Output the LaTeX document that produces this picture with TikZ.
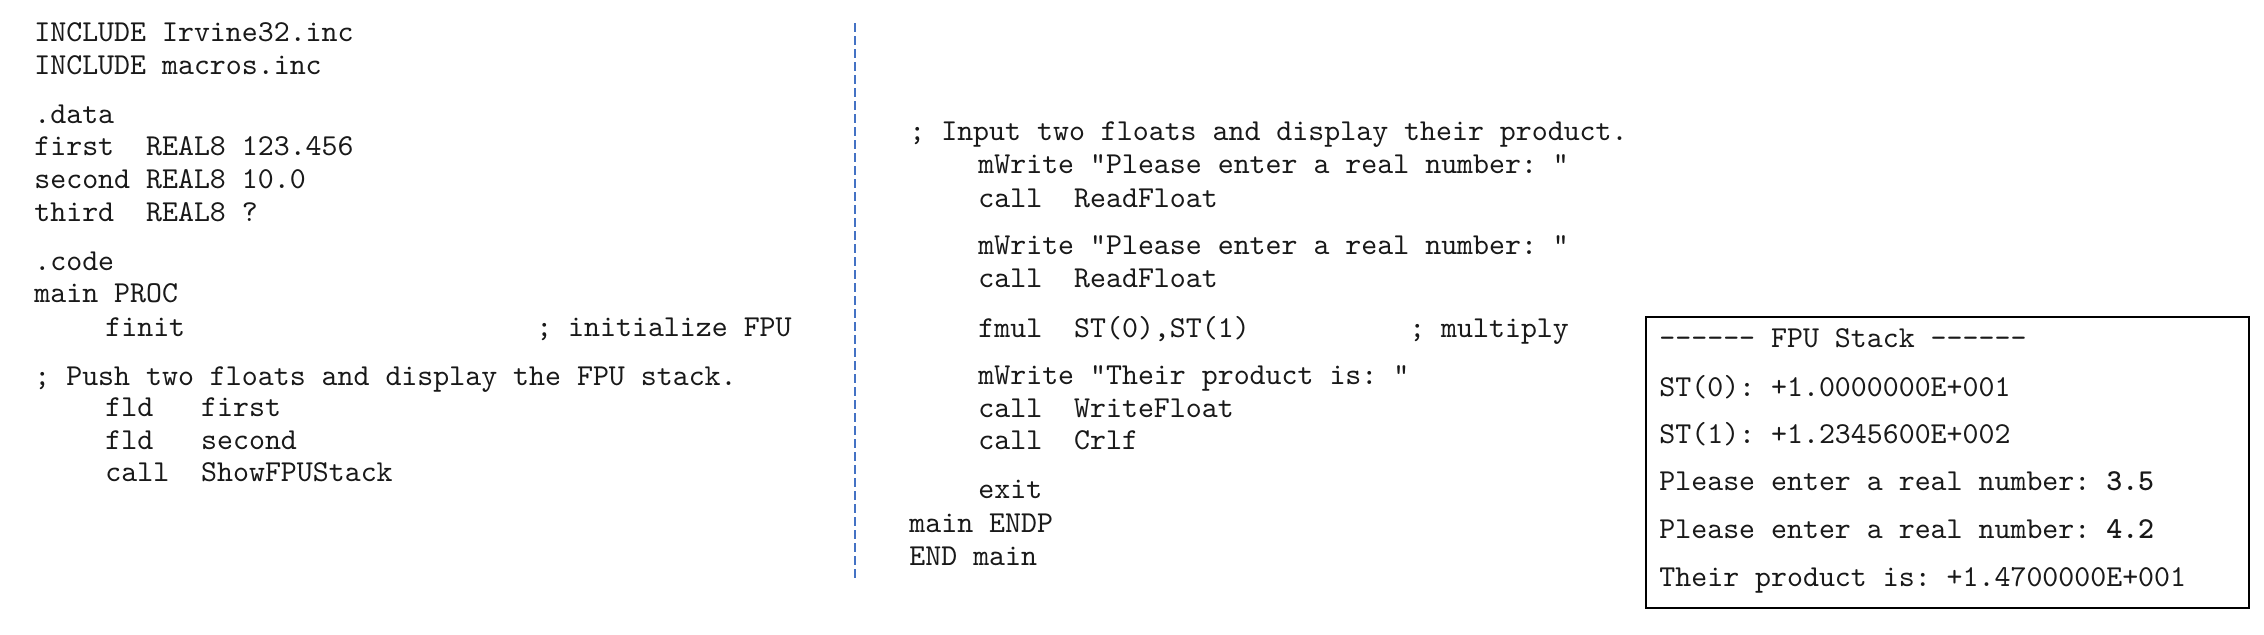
\documentclass[tikz,border=0pt]{standalone}
\usepackage{fontspec}
\setmonofont{lmmono10-regular.otf}[BoldFont=lmmonolt10-bold.otf]
\usepackage{tikz}
\usepackage{xcolor}
\definecolor{divblue}{RGB}{68,114,196}
\newcommand\cskip[1]{\hskip#1\fontdimen2\font\relax}
\tikzset{
  code/.style={ % one line of the listing or of the console
    anchor=mid west, inner sep=0pt, text=black!90,
    font=\ttfamily\fontsize{15.2pt}{18pt}\selectfont
  },
  divider/.style={ % dashed rule between the two halves
    divblue, line width=1pt, dash pattern=on 4.5pt off 2pt
  },
  outbox/.style={ % console output window
    draw, rectangle, line width=0.8pt, inner sep=0pt,
    minimum width=301.5pt, minimum height=145.5pt
  }
}

\begin{document}
\begin{tikzpicture}[x=0.5pt, y=-0.5pt]
  \useasboundingbox (0,0) rectangle (2264,634);

  % left half of the listing
  \node[code] (inc_a) at (34,37) {INCLUDE Irvine32.inc};
  \node[code] (inc_b) at (34,70) {INCLUDE macros.inc};
  \node[code] (data_hdr) at (34,119) {.data};
  \node[code] (var_a) at (34,151) {first\cskip{2}REAL8 123.456};
  \node[code] (var_b) at (34,184) {second REAL8 10.0};
  \node[code] (var_c) at (34,217) {third\cskip{2}REAL8 ?};
  \node[code] (code_hdr) at (34,266) {.code};
  \node[code] (proc) at (34,298) {main PROC};
  \node[code] (finit) at (105,332) {finit\cskip{22}; initialize FPU};
  \node[code] (push_cmt) at (34,381) {; Push two floats and display the FPU stack.};
  \node[code] (fld_a) at (105,412) {fld\cskip{3}first};
  \node[code] (fld_b) at (105,445) {fld\cskip{3}second};
  \node[code] (show) at (105,477) {call\cskip{2}ShowFPUStack};

  % dashed rule
  \coordinate (div_top) at (855,23);
  \coordinate (div_bot) at (855,580);
  \draw[divider] (div_top) -- (div_bot);

  % right half of the listing
  \node[code] (input_cmt) at (909,136) {; Input two floats and display their product.};
  \node[code] (write_a) at (978,169) {mWrite "Please enter a real number: "};
  \node[code] (read_a) at (978,203) {call\cskip{2}ReadFloat};
  \node[code] (write_b) at (978,250) {mWrite "Please enter a real number: "};
  \node[code] (read_b) at (978,283) {call\cskip{2}ReadFloat};
  \node[code] (fmul) at (978,333) {fmul\cskip{2}ST(0),ST(1)\cskip{10}; multiply};
  \node[code] (write_c) at (978,380) {mWrite "Their product is: "};
  \node[code] (wfloat) at (978,413) {call\cskip{2}WriteFloat};
  \node[code] (crlf) at (978,445) {call\cskip{2}Crlf};
  \node[code] (exit) at (978,494) {exit};
  \node[code] (endp) at (909,528) {main ENDP};
  \node[code] (endmain) at (909,561) {END main};

  % console output
  \node[outbox] (fpu) at (1947.5,462.5) {};
  \node[code] (fpu_hdr) at (1659,343) {------ FPU Stack ------};
  \node[code] (st_0) at (1659,392) {ST(0): +1.0000000E+001};
  \node[code] (st_1) at (1659,439) {ST(1): +1.2345600E+002};
  \node[code] (ask_a) at (1659,486) {Please enter a real number: \textbf{3.5}};
  \node[code] (ask_b) at (1659,534) {Please enter a real number: \textbf{4.2}};
  \node[code] (prod) at (1659,582) {Their product is: +1.4700000E+001};
\end{tikzpicture}
\end{document}
